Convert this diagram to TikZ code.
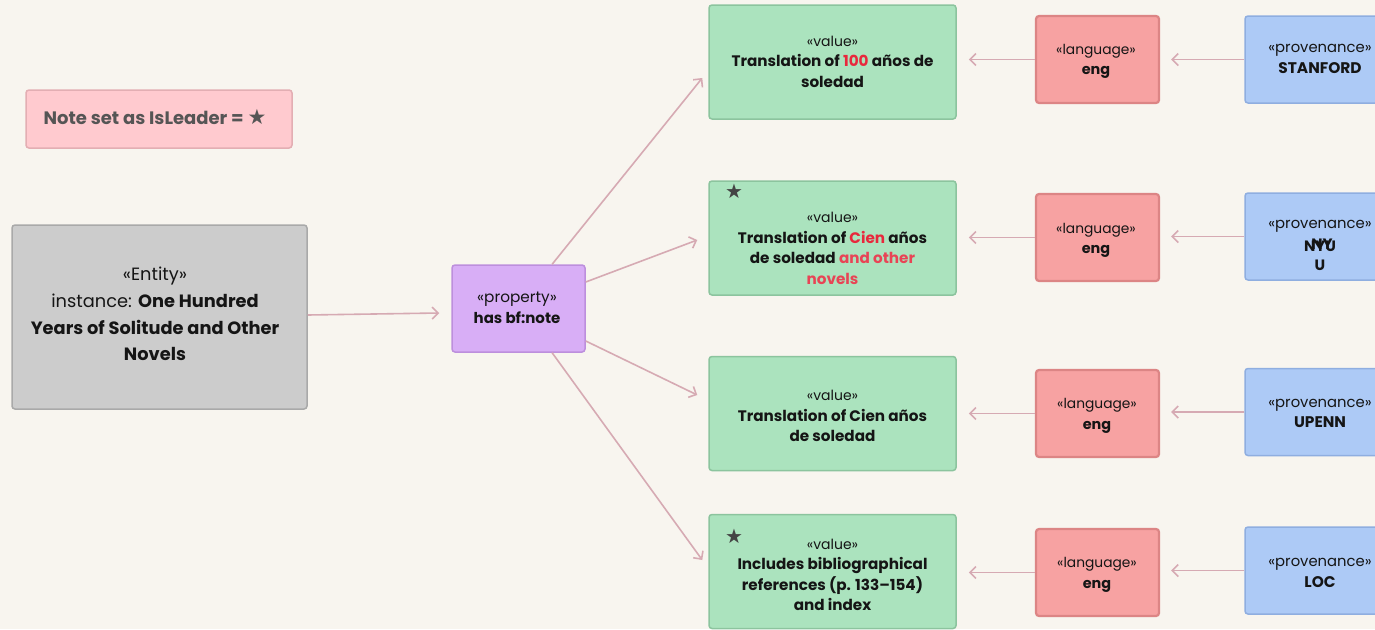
\documentclass[tikz,border=0pt]{standalone}
\usepackage{fontspec}
\setmainfont{Poppins}
\newfontfamily\symfont{DejaVu Sans}
\usetikzlibrary{arrows.meta,calc}

\definecolor{bgcol}{HTML}{F8F5EF}
\definecolor{notefill}{HTML}{FFCACF}
\definecolor{notedraw}{HTML}{E3AEB3}
\definecolor{entfill}{HTML}{CCCCCC}
\definecolor{entdraw}{HTML}{A9A9A9}
\definecolor{propfill}{HTML}{D8AEF6}
\definecolor{propdraw}{HTML}{BD8FDD}
\definecolor{valfill}{HTML}{ABE3BE}
\definecolor{valdraw}{HTML}{8CC49E}
\definecolor{langfill}{HTML}{F7A2A2}
\definecolor{langdraw}{HTML}{DC8585}
\definecolor{provfill}{HTML}{ADCAF6}
\definecolor{provdraw}{HTML}{8FAEE0}
\definecolor{arrowcol}{HTML}{D6AAB3}
\definecolor{inkcol}{HTML}{151515}
\definecolor{greycol}{HTML}{555555}
\definecolor{starcol}{HTML}{444444}
\definecolor{hotred}{HTML}{E8283C}
\definecolor{softred}{HTML}{E84455}

% stereotype line and bold name line, each with its own size
\newcommand\stereo[2]{{\fontsize{#1}{20.5}\selectfont #2}}
\newcommand\heavy[2]{{\bfseries\fontsize{#1}{20.5}\selectfont #2}}

\tikzset{
  box/.style={rounded corners=3pt, line width=1.5pt, inner sep=0pt},
  notebox/.style={box, fill=notefill, draw=notedraw, minimum width=266pt, minimum height=58pt},
  entbox/.style={box, fill=entfill, draw=entdraw, minimum width=295pt, minimum height=184pt},
  propbox/.style={box, fill=propfill, draw=propdraw, minimum width=133pt, minimum height=87pt},
  valbox/.style={box, fill=valfill, draw=valdraw, minimum width=247pt, minimum height=114pt},
  langbox/.style={box, fill=langfill, draw=langdraw, line width=2.2pt, minimum width=123pt, minimum height=87pt},
  provbox/.style={box, fill=provfill, draw=provdraw, minimum width=150pt, minimum height=87pt},
  label/.style={align=center, inner sep=0pt, text=inkcol, font=\fontsize{14}{20.5}\selectfont},
  star/.style={inner sep=0pt, text=starcol, font=\symfont\fontsize{20}{20}\selectfont},
  link/.style={draw=arrowcol, line width=1.6pt, -{Straight Barb[length=6pt,width=12pt]}}
}

\begin{document}
\begin{tikzpicture}[x=1pt,y=-1pt]
\fill[bgcol] (0,0) rectangle (1375,629);
\useasboundingbox (0,0) rectangle (1375,629);

% legend
\node[notebox] (note) at (159,119) {};
\node[label, text=greycol, font=\bfseries\fontsize{18}{20}\selectfont] (notet) at (155,117)
  {Note set as IsLeader = {\symfont\fontsize{21}{20}\selectfont ★}};

% entity and property
\node[entbox] (ent) at (159.5,317) {};
\node[label, font=\fontsize{17.8}{26.7}\selectfont] (entt) at (155,314)
  {«Entity»\\instance: \textbf{One Hundred}\\\textbf{Years of Solitude and Other}\\\textbf{Novels}};
\node[propbox] (prop) at (518.5,308.5) {};
\node[label] (propt) at (517,308) {\stereo{15.3}{«property»}\\\heavy{15}{has bf:note}};

% values
\node[valbox] (v1) at (832.5,62) {};
\node[label] (v1t) at (832.5,61.5)
  {\stereo{14}{«value»}\\\heavy{15.2}{Translation of \textcolor{hotred}{100} años de}\\\heavy{15.2}{soledad}};
\node[valbox] (v2) at (832.5,238) {};
\node[star] (s2) at (734,191) {★};
\node[label] (v2t) at (832.5,248.5)
  {\stereo{14}{«value»}\\\heavy{15.2}{Translation of \textcolor{hotred}{Cien} años}\\\heavy{15.2}{de soledad \textcolor{softred}{and other}}\\\heavy{15.2}{\textcolor{softred}{novels}}};
\node[valbox] (v3) at (832.5,413.5) {};
\node[label] (v3t) at (832.5,416)
  {\stereo{14}{«value»}\\\heavy{15.2}{Translation of Cien años}\\\heavy{15.2}{de soledad}};
\node[valbox] (v4) at (832.5,571.5) {};
\node[star] (s4) at (734,536) {★};
\node[label] (v4t) at (832.5,575)
  {\stereo{14}{«value»}\\\heavy{15.2}{Includes bibliographical}\\\heavy{15.2}{references (p. 133–154)}\\\heavy{15.2}{and index}};

% languages
\node[langbox] (l1) at (1097.5,59.5) {};
\node[label] (l1t) at (1096,61.5) {\stereo{13.8}{«language»}\\\heavy{14.4}{eng}};
\node[langbox] (l2) at (1097.5,237.5) {};
\node[label] (l2t) at (1096,240.5) {\stereo{13.8}{«language»}\\\heavy{14.4}{eng}};
\node[langbox] (l3) at (1097.5,413.5) {};
\node[label] (l3t) at (1097,416) {\stereo{13.8}{«language»}\\\heavy{14.4}{eng}};
\node[langbox] (l4) at (1097.5,572.5) {};
\node[label] (l4t) at (1097,575) {\stereo{13.8}{«language»}\\\heavy{14.4}{eng}};

% provenances
\node[provbox] (p1) at (1320,59.5) {};
\node[label] (p1t) at (1320,59) {\stereo{14.8}{«provenance»}\\\heavy{15.4}{STANFORD}};
\node[provbox] (p2) at (1320,236.5) {};
\node[label] (p2t) at (1320,226) {\stereo{14.8}{«provenance»}};
\node[label, font=\bfseries\fontsize{15}{20.5}\selectfont] (p2a) at (1320,246) {NYU};
\node[label, font=\bfseries\fontsize{15}{20.5}\selectfont] (p2b) at (1322,244) {NY};
\node[label, font=\bfseries\fontsize{15}{20.5}\selectfont] (p2c) at (1320,265) {U};
\node[provbox] (p3) at (1320,412) {};
\node[label] (p3t) at (1320,413.5) {\stereo{14.8}{«provenance»}\\\heavy{15.4}{UPENN}};
\node[provbox] (p4) at (1320,570.5) {};
\node[label] (p4t) at (1320,573) {\stereo{14.8}{«provenance»}\\\heavy{15.4}{LOC}};

% connectors
\draw[link] ([shift={(0,-2)}]ent.east) -- ([shift={(-12,4.5)}]prop.west);
\draw[link] ($(prop.north)!0.5!(prop.north east)$) -- ([shift={(-6,16)}]v1.west);
\draw[link] ([shift={(0,-26.5)}]prop.east) -- ([shift={(-11,2)}]v2.west);
\draw[link] ([shift={(0,32.5)}]prop.east) -- ([shift={(-11,-18.5)}]v3.west);
\draw[link] ($(prop.south)!0.5!(prop.south east)$) -- ([shift={(-6,-11.5)}]v4.west);

\foreach \i in {1,2,3,4}{
  \draw[link, shorten >=12pt] (l\i.west) -- (l\i.west -| v\i.east);
  \draw[link, shorten >=11pt] (p\i.west) -- (p\i.west -| l\i.east);
}
\end{tikzpicture}
\end{document}
